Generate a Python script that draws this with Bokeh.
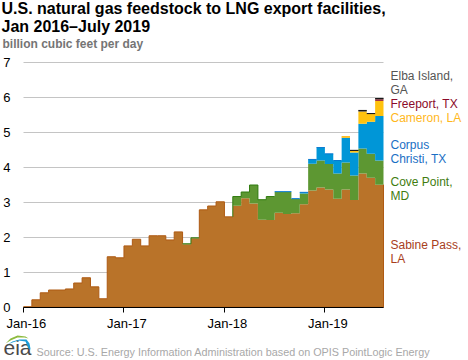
from bokeh.plotting import figure
from bokeh.embed import file_html
from bokeh.resources import INLINE
from bokeh.models import Label, FixedTicker, Range1d, PolyAnnotation, LinearAxis
import numpy as np

months = list(range(43))
tick_labels = {0: "Jan-16", 12: "Jan-17", 24: "Jan-18", 36: "Jan-19"}
y_ticks = [0, 1, 2, 3, 4, 5, 6, 7]

sabine_pass = [.02, .22, .42, .50, .50, .53, .70, .85, .59, .25, 1.45, 1.42, 1.76, 1.95, 1.76, 2.05, 2.05, 1.93,
               2.16, 1.81, 1.98, 2.79, 2.90, 3.02, 2.59, 2.91, 3.12, 2.97, 2.51, 2.50, 2.71, 2.67, 2.69, 2.95,
               3.34, 3.43, 3.37, 3.11, 3.37, 3.07, 3.83, 3.71, 3.51]
cove_point = [0]*19 + [.01, .01, 0, 0, 0, 0, .26, .18, .53, .57, .67, .59, .63, .41, .31,
              .77, .77, .73, .72, .77, .70, .71, .68, .69]
corpus_christi = [0]*30 + [.01, .01, .01, .03, .12, .37, .29, .37, .71, .66, .71, .92, 1.27]
cameron = [0]*38 + [.03, .04, .35, .22, .43]
freeport = [0]*42 + [.05]
elba_island = [0]*39 + [.02, .03, .01, .02]

series = [
    (sabine_pass, "#b97329", "#ae5a13"),
    (cove_point, "#5d9732", "#2f7a0e"),
    (corpus_christi, "#0096d7", "#0a78d0"),
    (cameron, "#ffc20e", "#ffb000"),
    (freeport, "#a33340", "#8b0a2a"),
    (elba_island, "#222222", "#111111"),
]

legend = [
    ("Elba Island,", 75, "#555555"), ("GA", 89, "#555555"),
    ("Freeport, TX", 103, "#8b0a2a"), ("Cameron, LA", 117, "#ffb81c"),
    ("Corpus", 144, "#1a6fc4"), ("Christi, TX", 158, "#1a6fc4"),
    ("Cove Point,", 181, "#3f7d10"), ("MD", 195, "#3f7d10"),
    ("Sabine Pass,", 244, "#a8401c"), ("LA", 258, "#a8401c"),
]

PLOT_L, PLOT_R, PLOT_T, PLOT_B = 23, 383, 62, 307
LABEL_SHIFT = 0.35


def dx(px):
    return (px - PLOT_L) * 43 / (PLOT_R - PLOT_L)


def dy(py):
    return (PLOT_B - py) * 7 / (PLOT_B - PLOT_T)


p = figure(width=468, height=360, output_backend="svg", toolbar_location=None,
           x_range=Range1d(dx(0), dx(468)), y_range=Range1d(dy(360), dy(0)),
           min_border_left=0, min_border_right=0, min_border_top=0, min_border_bottom=0,
           outline_line_color=None, background_fill_color="white", border_fill_color="white")
p.styles = {"position": "absolute", "left": "0px", "top": "0px"}

p.xgrid.visible = False
p.ygrid.visible = False
p.segment(x0=[0]*7, y0=y_ticks[1:], x1=[43]*7, y1=y_ticks[1:], line_color="#c4c4c4", line_width=1)

p.xaxis.fixed_location = 0
p.xaxis.bounds = (0, 43)
p.xaxis.ticker = FixedTicker(ticks=list(tick_labels))
p.xaxis.major_label_text_color = None
p.xaxis.axis_line_color = "black"
p.xaxis.major_tick_line_color = "black"
p.xaxis.major_tick_in = 0
p.xaxis.major_tick_out = 5
p.xaxis.minor_tick_line_color = None
p.xaxis.major_label_overrides = {k: "" for k in tick_labels}

shifted = {round(k + LABEL_SHIFT, 2): s for k, s in tick_labels.items()}
label_axis = LinearAxis(fixed_location=0, ticker=FixedTicker(ticks=list(shifted)),
                        major_label_overrides=shifted, axis_line_color=None,
                        major_tick_line_color=None, minor_tick_line_color=None,
                        major_tick_in=0, major_tick_out=5,
                        major_label_text_font="Liberation Sans", major_label_text_font_size="13px",
                        major_label_text_color="black", major_label_standoff=3)
p.add_layout(label_axis, "below")

p.yaxis.fixed_location = 0
p.yaxis.ticker = FixedTicker(ticks=y_ticks)
p.yaxis.axis_line_color = None
p.yaxis.major_tick_line_color = None
p.yaxis.minor_tick_line_color = None
p.yaxis.major_label_text_font = "Liberation Sans"
p.yaxis.major_label_text_font_size = "13px"
p.yaxis.major_label_text_color = "black"
p.yaxis.major_label_standoff = 7

x = np.array(months + [43])
base = np.zeros(44)
tops, owner = np.zeros(44), [0]*44
for k, (vals, fill, line) in enumerate(series):
    v = np.array(vals + [vals[-1]], dtype=float)
    t = base + v
    p.varea_step(x=x, y1=base, y2=t, step_mode="after", fill_color=fill)
    for i in range(44):
        if v[i] > 0:
            tops[i], owner[i] = t[i], k
    base = t

for i in months:
    c = series[owner[i]][2]
    p.segment(x0=[i], y0=[tops[i]], x1=[i+1], y1=[tops[i]], line_color=c, line_width=1)
    if i < 42:
        hi = i if tops[i] > tops[i+1] else i+1
        if owner[hi] < 2:
            p.segment(x0=[i+1], y0=[tops[i]], x1=[i+1], y1=[tops[i+1]], line_color=series[owner[hi]][2], line_width=1)

p.segment(x0=[0], y0=[0.01], x1=[43], y1=[0.01], line_color="#ae5a13", line_width=1)
p.segment(x0=[43], y0=[0], x1=[43], y1=[sabine_pass[-1]], line_color="#ae5a13", line_width=1)


def text(s, px, py, size, color="black", style="normal", font="Liberation Sans"):
    p.add_layout(Label(x=dx(px), y=dy(py), text=s, text_font=font,
                       text_font_size=size, text_color=color, text_font_style=style, text_baseline="middle"))


def arc(xs, ys, color):
    p.add_layout(PolyAnnotation(xs=[dx(a) for a in xs], ys=[dy(b) for b in ys], fill_color=color,
                                fill_alpha=1, line_color=None))


text("U.S. natural gas feedstock to LNG export facilities,", 1, 8, "16px", "black", "bold")
text("Jan 2016\u2013July 2019", 1, 26, "16px", "black", "bold")
text("billion cubic feet per day", 2, 43, "12px", "#757575", "bold")
for s, y0, c in legend:
    text(s, 390, y0, "12px", c)
text("Source: U.S. Energy Information Administration based on OPIS PointLogic Energy", 36, 351, "10.8px", "#a8a8a8")
text("eia", 3, 347, "21px", "#4a4a4a")
arc([5, 10, 17, 25, 28, 24, 17, 10], [343, 338, 335, 336, 338, 337, 337, 340], "#8dbb3f")
arc([7, 12, 19, 26, 29, 30, 28, 25, 18, 12], [344, 341, 339, 339, 343, 349, 348, 341, 340, 342], "#1b9ad6")

open("out.html", "w").write(file_html(p, INLINE))
